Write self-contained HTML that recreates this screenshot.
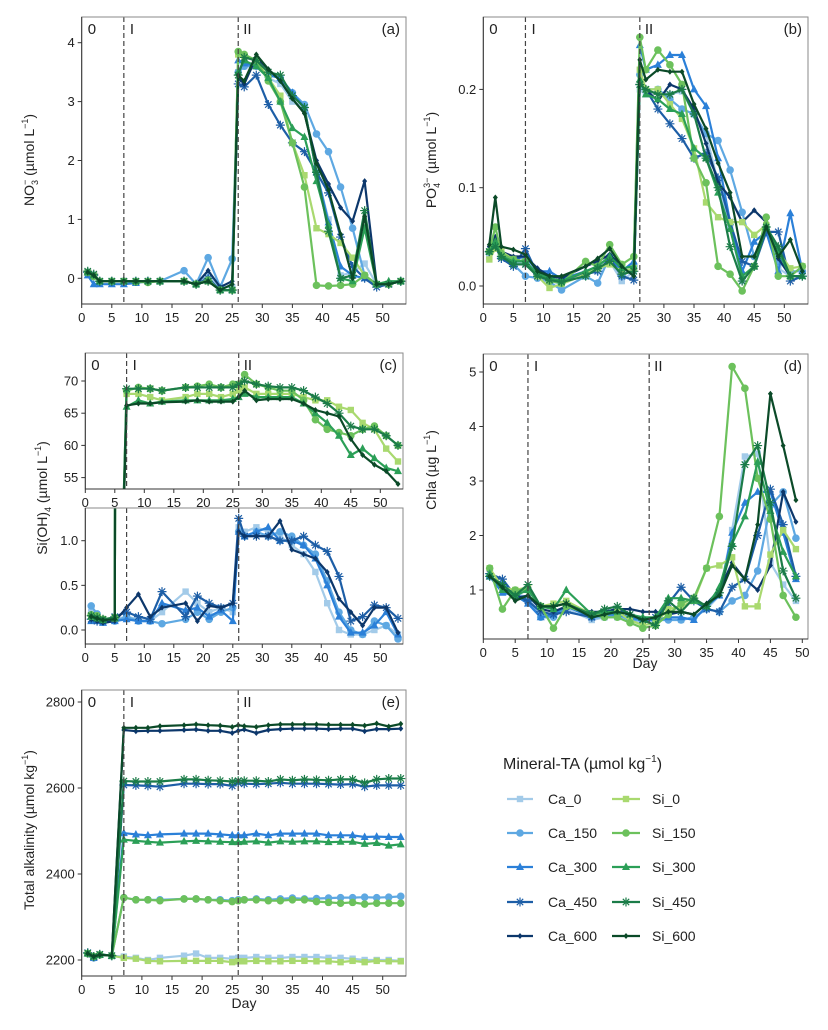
<!DOCTYPE html>
<html><head><meta charset="utf-8"><style>
body{margin:0;background:#fff;}
svg{display:block;font-family:"Liberation Sans",Arial,sans-serif;}
</style></head><body>
<svg id="fig" width="828" height="1030" viewBox="0 0 828 1030" xmlns="http://www.w3.org/2000/svg"></svg>
<script>
// ---- data ----
const days = [1,2,3,5,7,9,11,13,17,19,21,23,25,26,27,29,31,33,35,37,39,41,43,45,47,49,51,53];
const daysD = [1,3,5,7,9,11,13,17,19,21,23,25,27,29,31,33,35,37,39,41,43,45,47,49];
const seriesNames = ["Ca_0","Ca_150","Ca_300","Ca_450","Ca_600","Si_0","Si_150","Si_300","Si_450","Si_600"];
const xTicks = [0,5,10,15,20,25,30,35,40,45,50];
const phaseDays = [7,26];

// (a) NO3
const a_Ca_0   = [0.1,0.05,-0.05,-0.05,-0.05,-0.05,-0.05,-0.05,-0.05,-0.1,0.05,-0.15,-0.15,3.5,3.6,3.6,3.4,3.3,3.0,2.9,1.8,1.0,0.05,0.1,0.25,-0.1,-0.1,-0.05];
const a_Ca_150 = [0.1,0.05,-0.05,-0.05,-0.05,-0.05,-0.05,-0.05,0.13,-0.1,0.35,-0.15,0.33,3.5,3.6,3.6,3.45,3.4,3.15,2.95,2.45,2.15,1.55,0.85,0.05,-0.1,-0.1,-0.05];
const a_Ca_300 = [0.05,-0.1,-0.1,-0.1,-0.1,-0.08,-0.05,-0.05,-0.05,-0.1,0.0,-0.2,-0.2,3.7,3.65,3.6,3.45,3.4,3.15,2.9,1.8,0.95,0.2,0.05,0.0,-0.1,-0.1,-0.05];
const a_Ca_450 = [0.1,0.05,-0.05,-0.05,-0.05,-0.05,-0.05,-0.05,-0.05,-0.1,0.0,-0.2,-0.2,3.3,3.25,3.45,2.95,2.6,2.3,2.15,1.8,1.45,0.7,0.2,0.0,-0.15,-0.1,-0.05];
const a_Ca_600 = [0.1,0.05,-0.05,-0.05,-0.05,-0.05,-0.05,-0.05,-0.05,-0.1,0.13,-0.15,-0.05,3.4,3.3,3.75,3.55,3.35,3.05,2.8,2.0,1.6,1.2,0.97,1.65,-0.1,-0.1,-0.05];
const a_Si_0   = [0.1,0.05,-0.05,-0.05,-0.05,-0.05,-0.05,-0.05,-0.05,-0.1,-0.05,-0.2,-0.2,3.8,3.78,3.7,3.4,3.1,2.3,1.75,0.85,0.75,0.6,0.35,0.05,-0.1,-0.1,-0.05];
const a_Si_150 = [0.1,0.03,-0.05,-0.05,-0.05,-0.06,-0.07,-0.05,-0.05,-0.1,-0.03,-0.2,-0.2,3.85,3.8,3.7,3.35,3.0,2.3,1.55,-0.12,-0.13,-0.12,-0.1,0.05,-0.1,-0.1,-0.05];
const a_Si_300 = [0.1,0.05,-0.05,-0.05,-0.05,-0.05,-0.05,-0.05,-0.05,-0.1,-0.05,-0.2,-0.2,3.5,3.7,3.6,3.4,3.0,2.55,2.4,1.65,0.9,0.0,-0.05,0.85,-0.1,-0.05,-0.05];
const a_Si_450 = [0.12,0.07,-0.05,-0.05,-0.05,-0.05,-0.05,-0.05,-0.05,-0.1,-0.05,-0.2,-0.2,3.45,3.75,3.7,3.5,3.45,3.1,2.9,1.8,0.8,0.0,0.05,1.15,-0.1,-0.1,-0.05];
const a_Si_600 = [0.1,0.05,-0.05,-0.05,-0.05,-0.05,-0.05,-0.05,-0.05,-0.1,-0.05,-0.2,-0.1,3.45,3.35,3.8,3.55,3.35,3.05,2.8,1.95,1.5,0.75,0.0,1.05,-0.1,-0.1,-0.05];

// (b) PO4
const b_Ca_0   = [0.03,0.04,0.03,0.025,0.022,0.01,0.005,0.002,0.012,0.015,0.025,0.005,0.015,0.2,0.195,0.198,0.195,0.198,0.175,0.155,0.105,0.06,0.005,0.02,0.058,0.018,0.01,0.02];
const b_Ca_150 = [0.035,0.045,0.03,0.022,0.01,0.008,0.004,-0.004,0.01,0.003,0.03,0.01,0.02,0.215,0.2,0.2,0.19,0.18,0.175,0.155,0.148,0.118,0.075,0.03,0.06,0.025,0.015,0.015];
const b_Ca_300 = [0.035,0.045,0.03,0.027,0.03,0.015,0.015,0.007,0.015,0.02,0.03,0.015,0.025,0.245,0.22,0.225,0.235,0.235,0.2,0.183,0.13,0.065,0.015,0.045,0.055,0.015,0.074,0.015];
const b_Ca_450 = [0.035,0.04,0.028,0.02,0.038,0.012,0.008,0.005,0.012,0.015,0.028,0.01,0.006,0.205,0.2,0.18,0.165,0.15,0.13,0.135,0.11,0.065,0.025,0.02,0.055,0.055,0.005,0.01];
const b_Ca_600 = [0.04,0.05,0.035,0.03,0.03,0.018,0.01,0.008,0.02,0.025,0.032,0.02,0.01,0.21,0.2,0.188,0.205,0.2,0.18,0.145,0.105,0.09,0.065,0.077,0.065,0.028,0.01,0.01];
const b_Si_0   = [0.027,0.038,0.035,0.027,0.025,0.01,-0.002,0.002,0.012,0.018,0.022,0.015,0.018,0.22,0.2,0.2,0.185,0.17,0.14,0.085,0.07,0.065,0.065,0.052,0.062,0.035,0.018,0.02];
const b_Si_150 = [0.035,0.06,0.033,0.027,0.025,0.012,0.005,0.003,0.025,0.02,0.042,0.022,0.03,0.253,0.22,0.24,0.225,0.205,0.13,0.105,0.02,0.012,-0.005,0.02,0.07,0.01,0.01,0.02];
const b_Si_300 = [0.035,0.045,0.03,0.025,0.025,0.012,0.008,0.005,0.015,0.02,0.03,0.018,0.02,0.21,0.195,0.19,0.18,0.175,0.14,0.13,0.095,0.058,0.01,0.02,0.06,0.035,0.01,0.01];
const b_Si_450 = [0.035,0.04,0.03,0.022,0.022,0.01,0.006,0.004,0.01,0.018,0.025,0.012,0.015,0.205,0.2,0.195,0.195,0.2,0.175,0.13,0.1,0.04,0.005,0.02,0.06,0.04,0.01,0.01];
const b_Si_600 = [0.042,0.09,0.04,0.037,0.032,0.015,0.01,0.01,0.02,0.028,0.038,0.02,0.01,0.23,0.21,0.22,0.218,0.218,0.185,0.16,0.125,0.095,0.03,0.03,0.06,0.03,0.047,0.015];

// (c) Si(OH)4
const c_Ca_0   = [0.2,0.15,0.1,0.12,0.15,0.12,0.1,0.2,0.43,0.3,0.2,0.25,0.2,1.15,1.1,1.15,1.1,1.05,0.95,0.85,0.65,0.3,0.0,-0.05,-0.05,0.0,0.05,-0.05];
const c_Ca_150 = [0.27,0.18,0.1,0.1,0.15,0.1,0.1,0.07,0.12,0.2,0.12,0.2,0.25,1.1,1.05,1.1,1.05,1.1,1.05,0.95,0.85,0.55,0.2,0.0,-0.05,0.1,0.05,-0.1];
const c_Ca_300 = [0.1,0.1,0.08,0.1,0.12,0.1,0.1,0.3,0.22,0.25,0.15,0.22,0.1,1.1,1.05,1.1,1.15,1.0,1.0,0.95,0.8,0.5,0.15,-0.03,-0.03,0.05,0.2,-0.05];
const c_Ca_450 = [0.12,0.1,0.1,0.15,0.2,0.15,0.12,0.43,0.15,0.38,0.3,0.25,0.3,1.25,1.05,1.05,1.05,1.0,1.0,1.05,0.95,0.88,0.6,0.1,0.15,0.28,0.25,0.13];
const c_Ca_600 = [0.12,0.1,0.08,0.1,0.25,0.4,0.15,0.25,0.3,0.1,0.27,0.25,0.3,1.1,1.05,1.05,1.05,1.22,0.9,0.85,0.8,0.65,0.35,0.2,0.05,0.25,0.25,-0.03];
const c_Si_0   = [0.15,0.14,0.12,0.13,68,68,67.5,67,67.5,68,68,67.5,68,68.5,69,68,68,68,68,67.5,67,67,66,65.5,63.5,62.5,59.5,57.5];
const c_Si_150 = [0.17,0.16,0.12,0.14,68.5,69,68.8,68.5,69,69.2,69.5,69,69.5,69.5,71,69.5,69,68.5,68.5,67,64,62.5,62,61.5,62.5,63,61.5,60];
const c_Si_300 = [0.15,0.13,0.11,0.13,66,67,66.5,66.8,67,67,67,67,67.2,67.5,68,67.5,67.5,67.5,67.5,66.5,65,63.5,61.5,58.5,59.5,58,56.5,56];
const c_Si_450 = [0.16,0.14,0.12,0.14,68.8,68.8,68.8,68.5,69,69,69,69,69,69.5,70,69.5,69.2,69,69,68.5,67.5,66.5,65,63,62.5,62.5,61.5,60];
const c_Si_600 = [0.15,0.13,0.11,0.12,66.2,66.5,66.5,66.7,66.8,67,66.8,66.8,66.8,67.5,68.5,67,67.2,67.2,67.2,66.5,65.5,65,64.5,61,58.5,57,56,54];

// (d) Chla
const d_Ca_0   = [1.25,1.0,0.95,0.85,0.55,0.55,0.65,0.45,0.5,0.5,0.45,0.4,0.45,0.5,0.45,0.5,0.65,0.9,2.1,3.45,3.5,1.5,1.1,0.8];
const d_Ca_150 = [1.25,1.1,0.95,0.8,0.5,0.5,0.7,0.5,0.5,0.55,0.45,0.45,0.45,0.45,0.45,0.5,0.65,0.6,0.8,0.9,1.35,2.55,2.8,1.95];
const d_Ca_300 = [1.25,0.95,0.9,0.75,0.5,0.55,0.7,0.5,0.55,0.55,0.5,0.45,0.45,0.5,0.5,0.45,0.7,0.9,2.05,2.6,2.8,2.8,2.05,1.2];
const d_Ca_450 = [1.3,1.2,0.9,0.8,0.6,0.55,0.6,0.5,0.6,0.65,0.55,0.45,0.5,0.75,1.05,0.8,0.65,0.6,1.05,1.2,2.0,2.85,2.2,1.25];
const d_Ca_600 = [1.25,1.1,0.85,0.9,0.65,0.6,0.7,0.6,0.6,0.65,0.65,0.6,0.6,0.55,0.6,0.55,0.75,1.0,1.5,1.2,1.0,1.45,2.8,2.25];
const d_Si_0   = [1.4,1.05,1.0,1.05,0.7,0.75,0.8,0.55,0.55,0.6,0.45,0.35,0.4,0.65,0.7,0.8,1.4,1.45,1.6,0.7,0.7,1.65,2.1,1.75];
const d_Si_150 = [1.4,0.65,1.0,1.0,0.7,0.3,0.7,0.55,0.5,0.5,0.4,0.3,0.35,0.55,0.75,0.85,1.4,2.35,5.1,4.7,3.05,2.3,0.9,0.5];
const d_Si_300 = [1.3,1.0,0.9,1.0,0.7,0.65,1.0,0.55,0.6,0.6,0.55,0.5,0.5,0.85,0.85,0.8,0.7,1.05,1.85,2.35,3.35,2.45,1.7,1.25];
const d_Si_450 = [1.25,1.1,0.9,1.1,0.7,0.7,0.75,0.55,0.65,0.7,0.55,0.45,0.35,0.8,0.6,0.85,0.7,0.95,1.8,3.3,3.65,2.6,1.35,0.85];
const d_Si_600 = [1.25,1.05,0.8,0.9,0.7,0.7,0.75,0.5,0.55,0.6,0.55,0.45,0.5,0.6,0.6,0.55,0.75,0.9,1.45,1.2,2.2,4.6,3.65,2.65];

// (e) TA
const e_Ca_0   = [2215,2205,2212,2210,2208,2205,2200,2205,2210,2215,2205,2205,2203,2205,2205,2207,2205,2205,2207,2207,2207,2205,2205,2203,2200,2200,2200,2198];
const e_Ca_150 = [2215,2205,2212,2210,2345,2340,2340,2340,2342,2342,2340,2340,2338,2340,2340,2342,2340,2342,2344,2342,2343,2344,2345,2345,2346,2345,2346,2348];
const e_Ca_300 = [2215,2205,2212,2210,2495,2492,2490,2492,2494,2494,2494,2492,2490,2490,2490,2494,2490,2494,2494,2494,2494,2490,2490,2490,2486,2487,2486,2486];
const e_Ca_450 = [2217,2207,2213,2210,2607,2606,2605,2603,2610,2610,2609,2609,2605,2612,2610,2609,2610,2612,2610,2610,2610,2609,2608,2609,2603,2606,2606,2606];
const e_Ca_600 = [2215,2205,2212,2210,2735,2732,2733,2733,2735,2736,2733,2733,2728,2733,2736,2728,2735,2737,2738,2738,2738,2737,2738,2738,2732,2737,2737,2738];
const e_Si_0   = [2215,2208,2212,2210,2205,2203,2198,2197,2198,2198,2198,2198,2195,2197,2197,2198,2197,2197,2198,2198,2197,2197,2195,2198,2195,2198,2197,2197];
const e_Si_150 = [2215,2208,2212,2210,2345,2340,2340,2338,2342,2342,2340,2338,2336,2338,2340,2340,2338,2338,2340,2340,2336,2334,2332,2334,2330,2332,2332,2332];
const e_Si_300 = [2215,2208,2212,2210,2480,2477,2475,2473,2476,2477,2476,2475,2474,2474,2475,2476,2473,2476,2475,2476,2476,2474,2475,2475,2470,2472,2466,2469];
const e_Si_450 = [2216,2208,2213,2210,2616,2615,2615,2615,2620,2620,2618,2617,2615,2617,2617,2617,2615,2620,2618,2620,2619,2618,2620,2620,2612,2620,2622,2622];
const e_Si_600 = [2215,2208,2212,2210,2740,2740,2740,2744,2746,2748,2746,2745,2742,2746,2744,2742,2746,2748,2748,2748,2748,2747,2747,2747,2745,2750,2743,2749];

const colors = ["#a3cbe9","#5ea8e2","#2b80d8","#1d5ea6","#0c376b","#a9d96f","#6cc15c","#2b9f57","#1b7c48","#0b4a28"];
const markers = ["square","circle","triangle","star","diamond","square","circle","triangle","star","diamond"];

const NS="http://www.w3.org/2000/svg";
const svg=document.getElementById('fig');
function el(tag,attrs,parent){const e=document.createElementNS(NS,tag);for(const k in attrs)e.setAttribute(k,attrs[k]);(parent||svg).appendChild(e);return e;}

function marker(g,type,x,y,c){
  let m;
  if(type==="square")m=el('rect',{x:x-3.2,y:y-3.2,width:6.4,height:6.4,fill:c},g);
  else if(type==="circle")m=el('circle',{cx:x,cy:y,r:3.8,fill:c},g);
  else if(type==="triangle")m=el('polygon',{points:`${x},${y-4.5} ${x+4},${y+3} ${x-4},${y+3}`,fill:c},g);
  else if(type==="diamond")m=el('polygon',{points:`${x},${y-3} ${x+2.5},${y} ${x},${y+3} ${x-2.5},${y}`,fill:c},g);
  else {m=el('path',{d:`M${x-4.5},${y}H${x+4.5}M${x},${y-4.5}V${y+4.5}M${x-3.2},${y-3.2}L${x+3.2},${y+3.2}M${x-3.2},${y+3.2}L${x+3.2},${y-3.2}`,stroke:c,'stroke-width':1.2,fill:'none'},g);}
  
  
}

let clipId=0;
function panel(P){
  const g=el('g',{});
  
  
  const X=d=>P.left+d*P.xs;
  const Y=v=>P.y0-(v-P.v0)*P.ys;
  const cid='clip'+(clipId++);
  const cp=el('clipPath',{id:cid},g);
  el('rect',{x:P.left,y:P.top,width:P.right-P.left,height:P.bottom-P.top},cp);
  // series
  const sg=el('g',{'clip-path':`url(#${cid})`},g);
  P.series.forEach((arr,i)=>{
    const xs=P.days;
    const pts=arr.map((v,j)=>X(xs[j]).toFixed(1)+','+Y(v).toFixed(1)).join(' ');
    const pl=el('polyline',{points:pts,fill:'none',stroke:colors[i],'stroke-width':2.2,'stroke-linejoin':'round'},sg);
    
    
    arr.forEach((v,j)=>marker(sg,markers[i],X(xs[j]),Y(v),colors[i]));
  });
  // phase lines
  phaseDays.forEach(d=>{
    const l=el('line',{x1:X(d),x2:X(d),y1:P.top,y2:P.bottom,stroke:'#444','stroke-width':1.2,'stroke-dasharray':'5,3'},g);
    
    
  });
  // frame
  const fr=el('rect',{x:P.left,y:P.top,width:P.right-P.left,height:P.bottom-P.top,fill:'none',stroke:'#8a8a8a','stroke-width':1},g);
  
  
  el('line',{x1:P.left,x2:P.right,y1:P.bottom,y2:P.bottom,stroke:'#333','stroke-width':1},g);
  el('line',{x1:P.left,x2:P.left,y1:P.top,y2:P.bottom,stroke:'#333','stroke-width':1},g);
  // x ticks
  if(P.xlab!==false){
    xTicks.forEach(t=>{
      el('line',{x1:X(t),x2:X(t),y1:P.bottom,y2:P.bottom+4,stroke:'#333'},g);
      const tx=el('text',{x:X(t),y:P.bottom+18,'text-anchor':'middle','font-size':13,fill:'#222'},g);
      tx.textContent=t;
      
      
    });
  }
  P.yticks.forEach((t,k)=>{
    el('line',{x1:P.left-4,x2:P.left,y1:Y(t),y2:Y(t),stroke:'#333'},g);
    const ty=el('text',{x:P.left-7,y:Y(t)+4.5,'text-anchor':'end','font-size':13,fill:'#222'},g);
    ty.textContent=P.ylabels[k];
    
    
  });
  if(P.phase!==false){
    const labs=[["0",P.left+6],["I",X(7)+6],["II",X(26)+5]];
    labs.forEach(([s,x])=>{const t=el('text',{x:x,y:P.top+17,'font-size':15,fill:'#222'},g);t.textContent=s;
      });
    const pl=el('text',{x:P.right-6,y:P.top+17,'text-anchor':'end','font-size':15,fill:'#222'},g);
    pl.textContent=P.label;
    
    
  }
  return g;
}

const dayX=days;
panel({name:'panel-a-nitrate',left:81.7,right:406,top:17,bottom:304,xs:6.02,y0:278.3,v0:0,ys:58.9,days:dayX,
  series:[a_Ca_0,a_Ca_150,a_Ca_300,a_Ca_450,a_Ca_600,a_Si_0,a_Si_150,a_Si_300,a_Si_450,a_Si_600],
  yticks:[0,1,2,3,4],ylabels:["0","1","2","3","4"],label:"(a)"});
panel({name:'panel-b-phosphate',left:483.3,right:808,top:17,bottom:304,xs:6.02,y0:286,v0:0,ys:983,days:dayX,
  series:[b_Ca_0,b_Ca_150,b_Ca_300,b_Ca_450,b_Ca_600,b_Si_0,b_Si_150,b_Si_300,b_Si_450,b_Si_600],
  yticks:[0,0.1,0.2],ylabels:["0.0","0.1","0.2"],label:"(b)"});
const cSeries=[c_Ca_0,c_Ca_150,c_Ca_300,c_Ca_450,c_Ca_600,c_Si_0,c_Si_150,c_Si_300,c_Si_450,c_Si_600];
panel({name:'panel-c-silicate-upper',left:85.3,right:403,top:353,bottom:489,xs:5.9,y0:381,v0:70,ys:6.44,days:dayX,
  series:cSeries,yticks:[55,60,65,70],ylabels:["55","60","65","70"],label:"(c)"});
panel({name:'panel-c-silicate-lower',left:85.3,right:403,top:508,bottom:644,xs:5.9,y0:630,v0:0,ys:89.3,days:dayX,
  series:cSeries,yticks:[0,0.5,1.0],ylabels:["0.0","0.5","1.0"],phase:false});
panel({name:'panel-d-chla',left:483.3,right:808,top:354,bottom:639,xs:6.38,y0:590,v0:1,ys:54.5,days:daysD,
  series:[d_Ca_0,d_Ca_150,d_Ca_300,d_Ca_450,d_Ca_600,d_Si_0,d_Si_150,d_Si_300,d_Si_450,d_Si_600],
  yticks:[1,2,3,4,5],ylabels:["1","2","3","4","5"],label:"(d)"});
panel({name:'panel-e-alkalinity',left:81.7,right:406,top:690,bottom:976,xs:6.02,y0:960,v0:2200,ys:0.43,days:dayX,
  series:[e_Ca_0,e_Ca_150,e_Ca_300,e_Ca_450,e_Ca_600,e_Si_0,e_Si_150,e_Si_300,e_Si_450,e_Si_600],
  yticks:[2200,2400,2600,2800],ylabels:["2200","2400","2600","2800"],label:"(e)"});
</script>
<svg style="position:absolute;left:0;top:0" width="828" height="1030" xmlns="http://www.w3.org/2000/svg" font-family="Liberation Sans, Arial, sans-serif" fill="#222">
  <text transform="translate(34,160) rotate(-90)" text-anchor="middle" font-size="14">NO<tspan font-size="9" dy="4">3</tspan><tspan font-size="9" dy="-10" dx="-5">−</tspan><tspan dy="6"> (µmol L</tspan><tspan font-size="9" dy="-6">−1</tspan><tspan dy="6">)</tspan></text>
  <text transform="translate(436,160) rotate(-90)" text-anchor="middle" font-size="14">PO<tspan font-size="9" dy="4">4</tspan><tspan font-size="9" dy="-10" dx="-5">3−</tspan><tspan dy="6"> (µmol L</tspan><tspan font-size="9" dy="-6">−1</tspan><tspan dy="6">)</tspan></text>
  <text transform="translate(47,498) rotate(-90)" text-anchor="middle" font-size="14">Si(OH)<tspan font-size="9" dy="4">4</tspan><tspan dy="-4"> (µmol L</tspan><tspan font-size="9" dy="-6">−1</tspan><tspan dy="6">)</tspan></text>
  <text transform="translate(436,470) rotate(-90)" text-anchor="middle" font-size="14">Chla (µg L<tspan font-size="9" dy="-6">−1</tspan><tspan dy="6">)</tspan></text>
  <text x="645" y="668" text-anchor="middle" font-size="14">Day</text>
  <text transform="translate(34,830) rotate(-90)" text-anchor="middle" font-size="14">Total alkalinity (µmol kg<tspan font-size="9" dy="-6">−1</tspan><tspan dy="6">)</tspan></text>
  <text x="244" y="1008" text-anchor="middle" font-size="14">Day</text>
  <g>
    <text x="503" y="769" font-size="16">Mineral-TA (µmol kg<tspan font-size="10" dy="-7">−1</tspan><tspan dy="7">)</tspan></text>
    <g><line x1="507" x2="533" y1="799" y2="799" stroke="#a3cbe9" stroke-width="2.2"/><rect x="516.8" y="795.8" width="6.4" height="6.4" fill="#a3cbe9"/><text x="548" y="804" font-size="14">Ca_0</text></g>
    <g><line x1="507" x2="533" y1="833" y2="833" stroke="#5ea8e2" stroke-width="2.2"/><circle cx="520" cy="833" r="3.8" fill="#5ea8e2"/><text x="548" y="838" font-size="14">Ca_150</text></g>
    <g><line x1="507" x2="533" y1="867" y2="867" stroke="#2b80d8" stroke-width="2.2"/><polygon points="520,862.5 524,870 516,870" fill="#2b80d8"/><text x="548" y="872" font-size="14">Ca_300</text></g>
    <g><line x1="507" x2="533" y1="902" y2="902" stroke="#1d5ea6" stroke-width="2.2"/><path d="M515.5,902H524.5M520,897.5V906.5M516.8,898.8L523.2,905.2M516.8,905.2L523.2,898.8" stroke="#1d5ea6" stroke-width="1.2"/><text x="548" y="907" font-size="14">Ca_450</text></g>
    <g><line x1="507" x2="533" y1="936" y2="936" stroke="#0c376b" stroke-width="2.2"/><polygon points="520,933 522.5,936 520,939 517.5,936" fill="#0c376b"/><text x="548" y="941" font-size="14">Ca_600</text></g>
    <g><line x1="612" x2="640" y1="799" y2="799" stroke="#a9d96f" stroke-width="2.2"/><rect x="622.8" y="795.8" width="6.4" height="6.4" fill="#a9d96f"/><text x="652" y="804" font-size="14">Si_0</text></g>
    <g><line x1="612" x2="640" y1="833" y2="833" stroke="#6cc15c" stroke-width="2.2"/><circle cx="626" cy="833" r="3.8" fill="#6cc15c"/><text x="652" y="838" font-size="14">Si_150</text></g>
    <g><line x1="612" x2="640" y1="867" y2="867" stroke="#2b9f57" stroke-width="2.2"/><polygon points="626,862.5 630,870 622,870" fill="#2b9f57"/><text x="652" y="872" font-size="14">Si_300</text></g>
    <g><line x1="612" x2="640" y1="902" y2="902" stroke="#1b7c48" stroke-width="2.2"/><path d="M621.5,902H630.5M626,897.5V906.5M622.8,898.8L629.2,905.2M622.8,905.2L629.2,898.8" stroke="#1b7c48" stroke-width="1.2"/><text x="652" y="907" font-size="14">Si_450</text></g>
    <g><line x1="612" x2="640" y1="936" y2="936" stroke="#0b4a28" stroke-width="2.2"/><polygon points="626,933 628.5,936 626,939 623.5,936" fill="#0b4a28"/><text x="652" y="941" font-size="14">Si_600</text></g>
  </g>
</svg>
</body></html>
